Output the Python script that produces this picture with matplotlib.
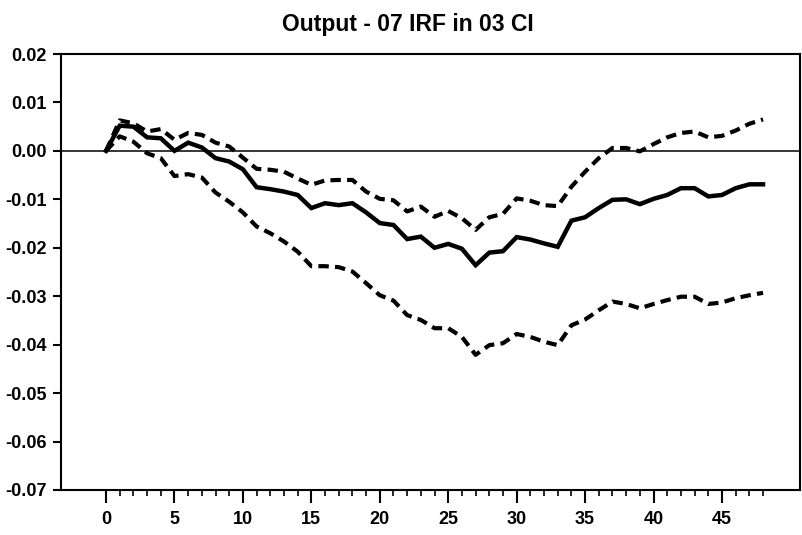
import matplotlib
matplotlib.use('Agg')
import matplotlib.pyplot as plt
from matplotlib.ticker import FixedLocator, FormatStrFormatter

# impulse response of output with 90% confidence band, horizons 0..48
horizon = list(range(49))
irf = [0.0, 0.0052, 0.0050, 0.0028, 0.0026, 0.0000, 0.0017, 0.0007, -0.0015, -0.0022,
       -0.0038, -0.0075, -0.0079, -0.0084, -0.0091, -0.0118, -0.0108, -0.0112, -0.0108, -0.0127,
       -0.0149, -0.0153, -0.0182, -0.0177, -0.0200, -0.0192, -0.0202, -0.0236, -0.0210, -0.0207,
       -0.0178, -0.0183, -0.0191, -0.0198, -0.0144, -0.0137, -0.0118, -0.0101, -0.0100, -0.0110,
       -0.0099, -0.0091, -0.0077, -0.0077, -0.0094, -0.0091, -0.0077, -0.0069, -0.0069]
upper = [0.0, 0.0063, 0.0057, 0.0040, 0.0045, 0.0023, 0.0037, 0.0033, 0.0017, 0.0009,
         -0.0014, -0.0037, -0.0039, -0.0043, -0.0057, -0.0070, -0.0061, -0.0060, -0.0060, -0.0084,
         -0.0099, -0.0102, -0.0125, -0.0115, -0.0136, -0.0124, -0.0139, -0.0163, -0.0137, -0.0130,
         -0.0098, -0.0103, -0.0112, -0.0114, -0.0074, -0.0043, -0.0015, 0.0006, 0.0006, -0.0001,
         0.0014, 0.0028, 0.0037, 0.0040, 0.0028, 0.0031, 0.0042, 0.0056, 0.0065]
lower = [0.0, 0.0030, 0.0019, -0.0005, -0.0015, -0.0052, -0.0048, -0.0055, -0.0086, -0.0105,
         -0.0127, -0.0156, -0.0170, -0.0187, -0.0208, -0.0238, -0.0238, -0.0240, -0.0249, -0.0273,
         -0.0298, -0.0309, -0.0339, -0.0349, -0.0366, -0.0366, -0.0384, -0.0421, -0.0401, -0.0397,
         -0.0378, -0.0384, -0.0394, -0.0401, -0.0360, -0.0348, -0.0329, -0.0311, -0.0316, -0.0325,
         -0.0316, -0.0308, -0.0301, -0.0301, -0.0316, -0.0313, -0.0304, -0.0298, -0.0293]

x_major = list(range(0, 46, 5))
y_major = [0.02, 0.01, 0.0, -0.01, -0.02, -0.03, -0.04, -0.05, -0.06, -0.07]

plt.rcParams['font.family'] = ['Liberation Sans Narrow', 'Liberation Sans', 'DejaVu Sans']
plt.rcParams['font.weight'] = 'bold'

fig = plt.figure(figsize=(8.02, 5.35), dpi=100)
ax = fig.add_axes([61 / 802, (535 - 490) / 535, (800 - 61) / 802, (490 - 54) / 535])

ax.axhline(0, color='black', lw=1.1, zorder=1)
ax.plot(horizon, upper, color='black', lw=3.0, linestyle=(0, (2.5, 1.5)), dash_capstyle='butt')
ax.plot(horizon, lower, color='black', lw=3.0, linestyle=(0, (2.5, 1.5)), dash_capstyle='butt')
ax.plot(horizon, irf, color='black', lw=3.2, solid_joinstyle='miter')

ax.set_xlim(-3.29, 50.7)
ax.set_ylim(-0.07, 0.02)

ax.xaxis.set_major_locator(FixedLocator(x_major))
ax.xaxis.set_minor_locator(FixedLocator(horizon))
ax.yaxis.set_major_locator(FixedLocator(y_major))
ax.yaxis.set_major_formatter(FormatStrFormatter('%.2f'))

ax.tick_params(axis='x', which='major', length=9, width=1.5, pad=6, labelsize=13)
ax.tick_params(axis='x', which='minor', length=4.5, width=1.2)
ax.tick_params(axis='y', which='major', length=6, width=1.5, pad=4, labelsize=13)

for side in ['left', 'right', 'top', 'bottom']:
    ax.spines[side].set_linewidth(1.5)

fig.text(408 / 802, 1 - 25 / 535, 'Output - 07 IRF in 03 CI', ha='center', va='center',
         fontsize=16.5, fontweight='bold')

plt.savefig('out.png', dpi=100)
